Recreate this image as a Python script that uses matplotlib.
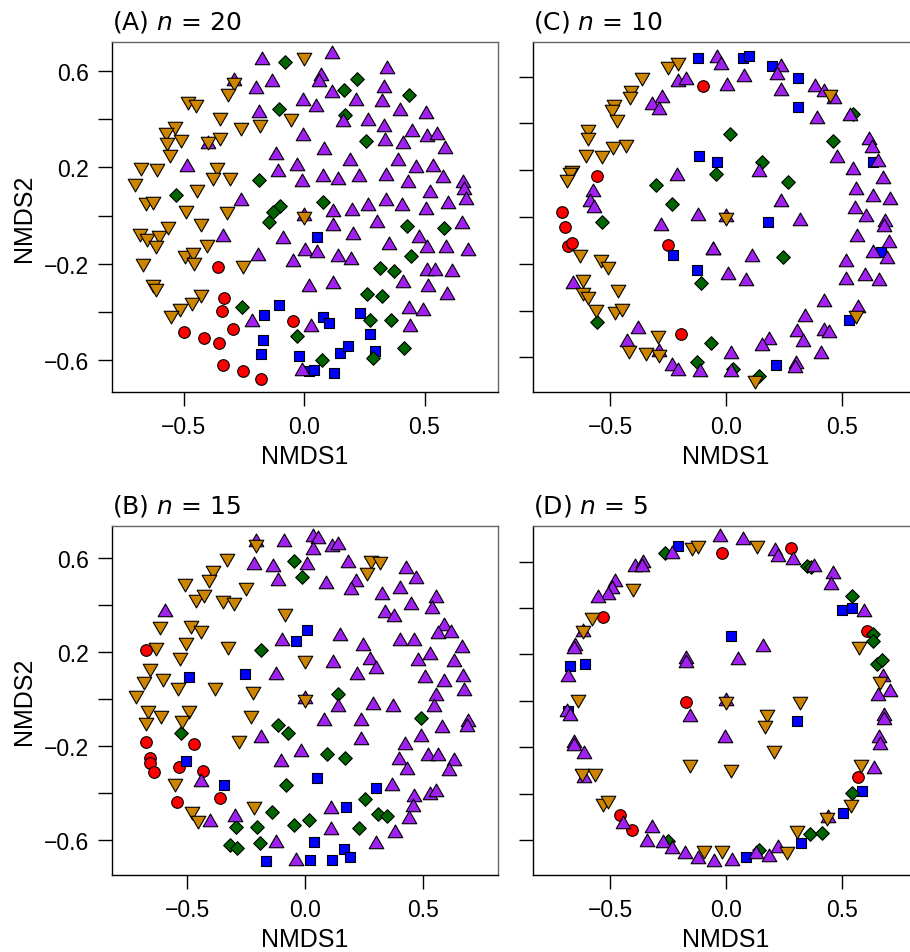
import matplotlib
matplotlib.use("Agg")
import matplotlib.pyplot as plt
from matplotlib.path import Path

plt.rcParams['font.family'] = ['Liberation Sans', 'DejaVu Sans']
plt.rcParams['mathtext.fontset'] = 'dejavusans'

# ---- panel A (n = 20) ----
A_red = [(-0.355, -0.214), (-0.332, -0.343), (-0.342, -0.394), (-0.296, -0.470), (-0.497, -0.484),
         (-0.415, -0.509), (-0.351, -0.530), (-0.337, -0.620), (-0.252, -0.643), (-0.178, -0.680),
         (-0.044, -0.436)]
A_blue = [(-0.102, -0.369), (-0.165, -0.412), (-0.172, -0.515), (-0.178, -0.574), (0.055, -0.091),
          (0.080, -0.422), (0.104, -0.445), (0.232, -0.404), (0.275, -0.491), (-0.021, -0.581),
          (0.149, -0.570), (0.183, -0.541), (0.296, -0.560), (0.022, -0.643), (0.041, -0.639),
          (0.126, -0.653)]
A_green = [(-0.079, 0.636), (-0.102, 0.443), (-0.185, 0.149), (-0.531, 0.086), (-0.100, 0.041),
           (-0.130, 0.014), (-0.145, -0.025), (-0.256, -0.380), (0.220, 0.566), (0.167, 0.519),
           (0.436, 0.502), (0.170, 0.418), (0.256, 0.310), (0.080, 0.058), (0.426, -0.044),
           (0.580, -0.050), (0.443, -0.166), (0.314, -0.219), (0.373, -0.232), (0.260, -0.325),
           (0.324, -0.335), (0.274, -0.432), (0.360, -0.433), (-0.028, -0.498), (0.414, -0.548),
           (0.073, -0.598), (0.285, -0.591)]
A_purple = [(-0.176, 0.647), (-0.290, 0.560), (-0.134, 0.556), (-0.199, 0.523), (-0.185, 0.426),
            (-0.397, 0.297), (-0.118, 0.252), (-0.484, 0.203), (-0.109, 0.180), (-0.263, 0.059),
            (-0.337, -0.087), (-0.089, -0.097), (-0.189, -0.166), (-0.217, -0.443),
            (0.115, 0.671), (0.343, 0.609), (0.069, 0.578), (0.064, 0.553), (0.118, 0.508),
            (-0.006, 0.477), (0.048, 0.452), (0.214, 0.474), (0.332, 0.530), (0.322, 0.473),
            (0.398, 0.432), (0.506, 0.422), (0.160, 0.387), (0.267, 0.394), (0.333, 0.369),
            (-0.006, 0.332), (0.447, 0.346), (0.509, 0.325), (0.553, 0.335), (0.336, 0.311),
            (0.412, 0.297), (0.585, 0.277), (0.084, 0.272), (0.191, 0.225), (0.391, 0.227),
            (0.465, 0.198), (0.537, 0.203), (-0.028, 0.207), (0.077, 0.159), (0.140, 0.148),
            (0.230, 0.159), (0.340, 0.163), (0.430, 0.134), (0.575, 0.155), (0.658, 0.136),
            (0.664, 0.104), (0.523, 0.094), (0.672, 0.066), (-0.010, 0.138), (0.122, 0.014),
            (0.201, 0.018), (0.264, 0.041), (0.339, 0.062), (0.408, 0.041), (0.505, 0.021),
            (0.599, 0.046), (0.119, -0.044), (0.302, -0.030), (0.654, -0.037), (0.205, -0.080),
            (0.479, -0.094), (0.512, -0.136), (0.353, -0.124), (0.589, -0.136), (0.682, -0.149),
            (0.003, -0.149), (0.055, -0.156), (-0.044, -0.191), (0.140, -0.173), (0.195, -0.184),
            (0.509, -0.231), (0.544, -0.228), (0.615, -0.235), (0.412, -0.281), (0.513, -0.295),
            (0.595, -0.328), (0.022, -0.297), (0.122, -0.286), (0.437, -0.387), (0.495, -0.396),
            (0.440, -0.461), (0.028, -0.463), (-0.007, -0.643), (0.0, 0.0)]
A_orange = [(-0.290, 0.556), (-0.317, 0.508), (-0.480, 0.477), (-0.448, 0.461), (-0.349, 0.408),
            (-0.261, 0.367), (-0.183, 0.380), (-0.055, 0.404), (-0.535, 0.371), (-0.573, 0.346),
            (-0.510, 0.318), (-0.570, 0.304), (-0.556, 0.256), (-0.397, 0.311), (-0.349, 0.325),
            (-0.678, 0.201), (-0.609, 0.196), (-0.701, 0.134), (-0.362, 0.201), (-0.376, 0.162),
            (-0.307, 0.159), (-0.445, 0.111), (-0.656, 0.055), (-0.628, 0.062), (-0.490, 0.021),
            (-0.321, 0.017), (-0.429, -0.032), (-0.680, -0.073), (-0.653, -0.094), (-0.600, -0.080),
            (-0.563, -0.044), (-0.614, -0.124), (-0.404, -0.118), (-0.494, -0.162), (-0.459, -0.152),
            (-0.456, -0.191), (-0.667, -0.196), (-0.252, -0.205), (-0.625, -0.286), (-0.614, -0.302),
            (-0.429, -0.325), (-0.466, -0.360), (-0.515, -0.385), (-0.553, -0.411), (0.0, 0.657),
            (0.0, 0.0)]

# ---- panel B (n = 15) ----
B_red = [(-0.677, 0.212), (-0.677, -0.182), (-0.472, -0.189), (-0.657, -0.250), (-0.660, -0.270),
         (-0.643, -0.310), (-0.536, -0.286), (-0.433, -0.303), (-0.542, -0.438), (-0.362, -0.421)]
B_blue = [(-0.494, 0.097), (-0.255, 0.109), (-0.504, -0.260), (-0.343, -0.362), (-0.166, -0.689),
          (0.010, 0.296), (-0.038, 0.250), (0.052, -0.334), (0.301, -0.378), (0.173, -0.459),
          (0.038, -0.605), (0.167, -0.636), (0.191, -0.672), (0.021, -0.682), (0.116, -0.683)]
B_green = [(-0.189, 0.212), (-0.525, -0.144), (-0.116, -0.109), (-0.071, -0.144), (-0.082, -0.364),
           (-0.142, -0.480), (-0.294, -0.544), (-0.206, -0.544), (-0.319, -0.619), (-0.288, -0.632),
           (-0.191, -0.611), (-0.045, 0.591), (-0.011, 0.523), (0.142, 0.023), (0.494, -0.079),
           (0.095, -0.232), (0.170, -0.250), (0.255, -0.423), (0.312, -0.487), (0.348, -0.494),
           (0.231, -0.548), (0.018, -0.511), (-0.047, -0.534)]
B_purple = [(-0.209, 0.669), (-0.089, 0.669), (-0.216, 0.570), (-0.135, 0.562), (-0.116, 0.506),
            (-0.096, 0.248), (-0.123, 0.104), (-0.594, 0.374), (-0.187, -0.165), (-0.104, -0.265),
            (-0.440, -0.352), (-0.404, -0.520), (-0.298, -0.499), (-0.125, -0.611),
            (0.035, 0.693), (0.057, 0.683), (0.033, 0.636), (0.113, 0.650), (0.142, 0.657),
            (0.007, 0.574), (0.182, 0.581), (0.217, 0.499), (0.194, 0.467), (0.089, 0.491),
            (0.430, 0.555), (0.472, 0.513), (0.404, 0.470), (0.329, 0.445), (0.450, 0.402),
            (0.557, 0.432), (0.539, 0.385), (0.340, 0.367), (0.379, 0.350), (0.589, 0.314),
            (0.567, 0.279), (0.620, 0.283), (0.149, 0.272), (0.245, 0.229), (0.404, 0.248),
            (0.461, 0.248), (0.667, 0.218), (0.482, 0.165), (0.532, 0.191), (0.631, 0.158),
            (0.118, 0.155), (0.277, 0.168), (0.302, 0.130), (0.220, 0.104), (0.511, 0.090),
            (0.591, 0.076), (0.671, 0.097), (0.677, 0.038), (0.557, 0.016), (0.142, -0.033),
            (0.288, -0.023), (0.372, -0.033), (0.549, -0.033), (0.082, -0.090), (0.237, -0.090),
            (0.582, -0.121), (0.691, -0.097), (0.688, -0.118), (0.238, -0.171), (0.492, -0.158),
            (0.426, -0.194), (0.401, -0.257), (0.435, -0.300), (0.522, -0.239), (0.567, -0.242),
            (0.634, -0.260), (0.610, -0.306), (-0.017, -0.225), (0.369, -0.367), (0.464, -0.413),
            (0.532, -0.405), (0.557, -0.392), (0.458, -0.459), (0.440, -0.509), (0.111, -0.466),
            (0.109, -0.555), (0.383, -0.570), (0.301, -0.615), (-0.038, -0.689), (0.0, 0.0)]
B_orange = [(-0.209, 0.662), (-0.330, 0.601), (-0.393, 0.551), (-0.407, 0.513), (-0.511, 0.494),
            (-0.464, 0.428), (-0.428, 0.449), (-0.350, 0.423), (-0.302, 0.413), (-0.252, 0.480),
            (-0.085, 0.367), (-0.617, 0.314), (-0.485, 0.317), (-0.440, 0.296), (-0.631, 0.225),
            (-0.504, 0.243), (-0.329, 0.229), (-0.532, 0.182), (-0.657, 0.134), (-0.685, 0.080),
            (-0.603, 0.091), (-0.539, 0.055), (-0.383, 0.055), (-0.223, 0.038), (-0.719, 0.021),
            (-0.667, -0.043), (-0.613, -0.065), (-0.677, -0.097), (-0.492, -0.043), (-0.521, -0.087),
            (-0.231, -0.065), (-0.279, -0.172), (-0.553, -0.357), (-0.478, -0.476), (-0.454, -0.513),
            (-0.217, -0.452), (0.279, 0.594), (0.319, 0.588), (0.262, 0.541), (0.0, 0.168),
            (0.0, 0.0)]

# ---- panel C (n = 10) ----
C_red = [(-0.101, 0.561), (-0.557, 0.174), (-0.708, 0.023), (-0.694, -0.044), (-0.682, -0.125),
         (-0.665, -0.111), (-0.249, -0.118), (-0.194, -0.501)]
C_blue = [(-0.122, 0.678), (-0.115, 0.262), (-0.230, -0.161), (-0.126, -0.226), (0.075, 0.678),
          (0.099, 0.689), (0.197, 0.647), (0.309, 0.593), (0.309, 0.472), (0.635, 0.234),
          (-0.037, 0.234), (0.182, -0.023), (0.667, -0.151), (0.532, -0.440), (0.216, -0.632)]
C_green = [(-0.302, 0.138), (-0.234, 0.056), (-0.536, -0.020), (-0.108, -0.283), (-0.557, -0.447),
           (-0.065, -0.538), (-0.124, -0.618), (0.546, 0.440), (0.017, 0.355), (0.463, 0.326),
           (-0.043, 0.184), (0.157, 0.234), (0.269, 0.151), (0.247, -0.172), (0.029, -0.650),
           (0.142, -0.681)]
C_purple = [(-0.205, 0.578), (-0.174, 0.587), (-0.277, 0.507), (-0.320, 0.479), (-0.289, 0.457),
            (-0.210, 0.177), (-0.575, 0.105), (-0.586, 0.066), (-0.568, 0.037), (-0.122, 0.003),
            (-0.280, -0.037), (-0.057, -0.140), (-0.658, -0.286), (-0.381, -0.479), (-0.428, -0.533),
            (-0.289, -0.578), (-0.231, -0.638), (-0.205, -0.657), (-0.112, -0.661),
            (-0.037, 0.678), (-0.022, 0.650), (0.079, 0.597), (0.006, 0.558), (0.237, 0.640),
            (0.218, 0.607), (0.236, 0.540), (0.384, 0.554), (0.424, 0.533), (0.466, 0.504),
            (0.534, 0.430), (0.391, 0.419), (0.618, 0.330), (0.628, 0.293), (0.657, 0.236),
            (0.480, 0.251), (0.549, 0.202), (0.675, 0.162), (0.559, 0.117), (0.635, 0.084),
            (0.707, 0.073), (0.556, 0.034), (0.603, -0.001), (0.685, -0.023), (0.681, -0.044),
            (0.566, -0.087), (0.703, -0.111), (0.635, -0.155), (0.693, -0.179), (0.517, -0.191),
            (0.599, -0.251), (0.517, -0.268), (0.659, -0.275), (0.144, 0.191), (0.237, 0.063),
            (0.319, -0.016), (0.114, -0.172), (-0.055, -0.141), (0.010, -0.246), (0.085, -0.272),
            (0.422, -0.362), (0.568, -0.390), (0.341, -0.429), (0.307, -0.490), (0.330, -0.536),
            (0.422, -0.486), (0.445, -0.496), (0.187, -0.524), (0.157, -0.550), (0.408, -0.585),
            (0.022, -0.585), (0.302, -0.628), (0.297, -0.647), (0.020, -0.664), (0.0, 0.0)]
C_orange = [(-0.251, 0.647), (-0.205, 0.664), (-0.364, 0.597), (-0.409, 0.544), (-0.414, 0.516),
            (-0.481, 0.483), (-0.490, 0.462), (-0.471, 0.419), (-0.593, 0.376), (-0.596, 0.340),
            (-0.605, 0.269), (-0.536, 0.265), (-0.486, 0.305), (-0.432, 0.312), (-0.665, 0.202),
            (-0.672, 0.191), (-0.684, 0.162), (-0.629, -0.158), (-0.539, -0.179), (-0.507, -0.208),
            (-0.615, -0.265), (-0.615, -0.322), (-0.593, -0.339), (-0.467, -0.308), (-0.560, -0.393),
            (-0.478, -0.400), (-0.447, -0.390), (-0.292, -0.504), (-0.417, -0.567), (-0.346, -0.576),
            (-0.289, -0.585), (0.448, 0.526), (0.560, -0.419), (0.125, -0.695), (0.0, 0.0)]

# ---- panel D (n = 5) ----
D_red = [(-0.529, 0.362), (-0.174, -0.007), (-0.457, -0.493), (-0.404, -0.557), (-0.016, 0.637),
         (0.280, 0.658), (0.606, 0.302), (0.570, -0.326)]
D_blue = [(-0.208, 0.668), (-0.672, 0.151), (-0.608, 0.158), (-0.682, -0.043), (0.022, 0.280),
          (0.499, 0.391), (0.545, 0.399), (0.307, -0.086), (0.585, -0.388), (0.506, -0.484),
          (0.322, -0.614), (0.085, -0.672)]
D_green = [(-0.263, 0.635), (-0.249, -0.603), (0.348, 0.579), (0.366, 0.575), (0.542, 0.453),
           (0.635, 0.290), (0.635, 0.256), (0.649, 0.158), (0.671, 0.175), (0.542, -0.395),
           (0.362, -0.575), (0.414, -0.570), (0.144, -0.644)]
D_purple = [(-0.234, 0.632), (-0.392, 0.578), (-0.359, 0.592), (-0.364, 0.575), (-0.478, 0.510),
            (-0.493, 0.481), (-0.510, 0.455), (-0.550, 0.443), (-0.615, 0.295), (-0.651, 0.237),
            (-0.654, 0.223), (-0.680, 0.101), (-0.687, -0.050), (-0.672, -0.065), (-0.654, -0.182),
            (-0.657, -0.195), (-0.611, -0.230), (-0.611, -0.333), (-0.174, 0.180), (-0.174, 0.165),
            (-0.155, -0.069), (-0.443, -0.532), (-0.320, -0.546), (-0.342, -0.606), (-0.270, -0.611),
            (-0.231, -0.639), (-0.177, -0.661), (-0.119, -0.682), (-0.052, -0.693),
            (-0.026, 0.704), (0.072, 0.693), (0.211, 0.647), (0.226, 0.621), (0.290, 0.606),
            (0.379, 0.578), (0.463, 0.546), (0.451, 0.500), (0.595, 0.381), (0.161, 0.233),
            (0.053, 0.175), (0.678, 0.101), (0.707, 0.036), (0.657, 0.019), (0.681, -0.065),
            (0.681, -0.082), (0.659, -0.158), (0.664, -0.190), (0.639, -0.292), (-0.004, -0.162),
            (0.441, -0.503), (0.027, -0.690), (0.129, -0.661), (0.187, -0.672), (0.223, -0.632),
            (0.0, 0.0)]
D_orange = [(-0.145, 0.664), (-0.122, 0.672), (-0.399, 0.486), (-0.576, 0.362), (-0.618, 0.305),
            (-0.639, 0.007), (-0.622, -0.309), (-0.565, -0.309), (-0.529, -0.438), (-0.507, -0.428),
            (-0.155, -0.270), (-0.095, -0.644), (0.135, 0.671), (0.573, 0.237), (0.664, 0.086),
            (0.319, 0.000), (0.175, -0.055), (0.168, -0.103), (0.208, -0.211), (0.022, -0.295),
            (0.582, -0.270), (0.539, -0.443), (0.434, -0.500), (0.305, -0.556), (0.264, -0.647),
            (-0.019, -0.642), (0.0, 0.0)]

PANELS = [
    ('A', 20, A_red, A_blue, A_green, A_purple, A_orange),
    ('B', 15, B_red, B_blue, B_green, B_purple, B_orange),
    ('C', 10, C_red, C_blue, C_green, C_purple, C_orange),
    ('D', 5, D_red, D_blue, D_green, D_purple, D_orange),
]

# axes rectangles in pixels (left, top, right, bottom) and data limits
W, H = 910, 953
BOXES = {'A': (112, 43, 498, 393), 'B': (112, 527, 498, 876),
         'C': (533, 43, 919, 393), 'D': (533, 527, 919, 876)}
LIMS = {'A': ((-0.797, 0.805), (-0.732, 0.720)),
        'B': ((-0.820, 0.820), (-0.747, 0.738)),
        'C': ((-0.832, 0.832), (-0.748, 0.748)),
        'D': ((-0.832, 0.832), (-0.750, 0.753))}

tri_up = Path([(0, 1), (-0.866, -0.5), (0.866, -0.5), (0, 1)], closed=True)
tri_down = Path([(0, -1), (-0.866, 0.5), (0.866, 0.5), (0, -1)], closed=True)

STYLES = [  # red, blue, green, purple, orange
    dict(marker='o', s=70, c='#FF0000'),
    dict(marker='s', s=55, c='#0000FF'),
    dict(marker='D', s=48, c='#006400'),
    dict(marker=tri_up, s=148, c='#A020F0'),
    dict(marker=tri_down, s=148, c='#CD8500'),
]

fig = plt.figure(figsize=(W / 100, H / 100), dpi=100)

for name, n, *groups in PANELS:
    l, t, r, b = BOXES[name]
    ax = fig.add_axes([l / W, 1 - b / H, (r - l) / W, (b - t) / H])
    for pts, st in zip(groups, STYLES):
        xs = [p[0] for p in pts]
        ys = [p[1] for p in pts]
        ax.scatter(xs, ys, marker=st['marker'], s=st['s'], c=st['c'],
                   edgecolors='black', linewidths=0.8, zorder=3)
    ax.set_xlim(*LIMS[name][0])
    ax.set_ylim(*LIMS[name][1])

    ax.set_xticks([-0.5, 0.0, 0.5])
    ax.set_xticklabels(['\u22120.5', '0.0', '0.5'])
    ax.set_yticks([-0.6, -0.4, -0.2, 0.0, 0.2, 0.4, 0.6])
    if name in ('A', 'B'):
        ax.set_yticklabels(['\u22120.6', '', '\u22120.2', '', '0.2', '', '0.6'])
        ax.set_ylabel('NMDS2', fontsize=18)
        ax.yaxis.set_label_coords(-0.198, 0.5)
    else:
        ax.set_yticklabels([''] * 7)
    ax.set_xlabel('NMDS1', fontsize=18)
    ax.xaxis.set_label_coords(0.5, -0.150)
    ax.xaxis.label.set_va('top')

    ax.tick_params(direction='out', length=10, width=1, labelsize=16.5, pad=6.5,
                   color='black')
    for side in ('top', 'right'):
        ax.spines[side].set_color('#666666')
    for side in ('left', 'bottom'):
        ax.spines[side].set_color('black')
    for sp in ax.spines.values():
        sp.set_linewidth(1.0)

    ax.set_title('(%s) $n$ = %d' % (name, n), loc='left', pad=10,
                 fontsize=18, family='DejaVu Sans')

fig.savefig('out.png', dpi=100)
